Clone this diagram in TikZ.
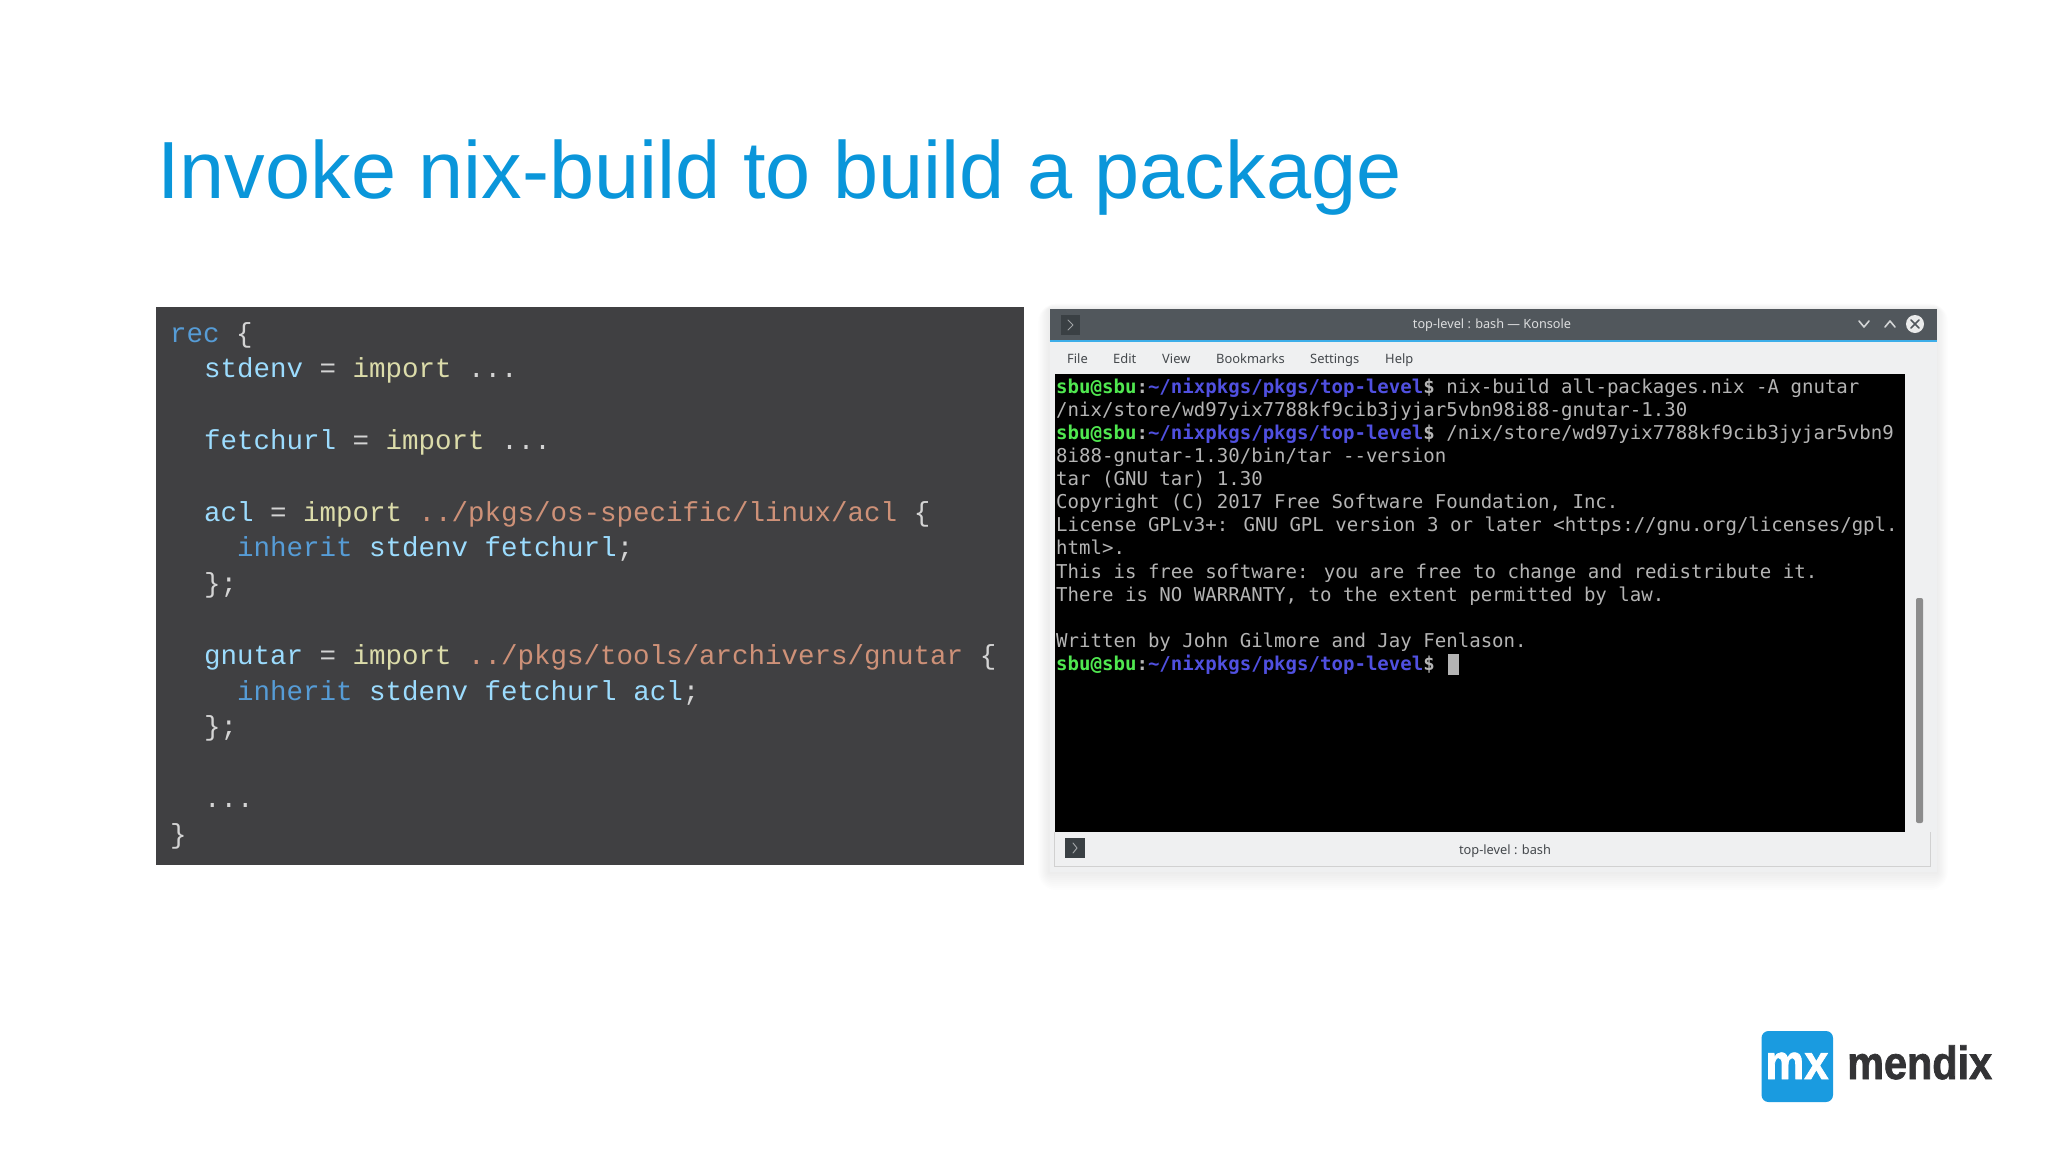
\documentclass[tikz,border=0pt]{standalone}
\usepackage{fontspec}
\setmainfont{Liberation Sans}
\newfontfamily\codefont{Liberation Mono}
\newfontfamily\termfont{DejaVu Sans Mono}
\newfontfamily\uifont{Noto Sans}
\newfontfamily\logofont[BoldFeatures={FakeStretch=.89,FakeBold=1.5}]{Liberation Sans}

\definecolor{titleblue}{HTML}{0A96DA}
\definecolor{panelgray}{HTML}{404042}
\definecolor{ckw}{HTML}{569CD6}
\definecolor{cvar}{HTML}{9CDCFE}
\definecolor{cfun}{HTML}{DCDCAA}
\definecolor{cstr}{HTML}{CE9178}
\definecolor{cpun}{HTML}{D4D4D4}
\definecolor{termgreen}{HTML}{50E850}
\definecolor{termblue}{HTML}{5050E0}
\definecolor{termgray}{HTML}{B4B4B4}
\definecolor{winbody}{HTML}{EFF0F1}
\definecolor{winbar}{HTML}{51575C}
\definecolor{winicon}{HTML}{3A4044}
\definecolor{winline}{HTML}{3DAEE9}
\definecolor{uitext}{HTML}{44484C}
\definecolor{logoblue}{HTML}{1A9BE0}
\definecolor{logodark}{HTML}{333335}

\newcommand{\kw}[1]{\textcolor{ckw}{#1}}
\newcommand{\vr}[1]{\textcolor{cvar}{#1}}
\newcommand{\fn}[1]{\textcolor{cfun}{#1}}
\newcommand{\st}[1]{\textcolor{cstr}{#1}}
\newcommand{\sbuprompt}{{\bfseries\textcolor{termgreen}{sbu@sbu}\textcolor{termgray}{:}\textcolor{termblue}{\textasciitilde/nixpkgs/pkgs/top-level}\textcolor{termgray}{\$}}}

\tikzset{
  codeline/.style={anchor=base west,inner sep=0,text=cpun,font=\codefont\fontsize{27.5}{30}\selectfont},
  termline/.style={anchor=base west,inner sep=0,text=termgray,font=\termfont\fontsize{19.06}{23}\selectfont},
  menuitem/.style={anchor=base west,inner sep=0,text=uitext,font=\uifont\fontsize{12.9}{16}\selectfont},
  winglyph/.style={line width=1.6pt,draw=#1,line cap=round,line join=round},
  winglyph/.default=white!75!winbar
}

\begin{document}
\begin{tikzpicture}[x=1pt,y=-1pt]
    \fill[white] (0,0) rectangle (2048,1152);
    \useasboundingbox (0,0) rectangle (2048,1152);

    \node[anchor=base west,inner sep=0,text=titleblue,font=\fontsize{81.1}{90}\selectfont] (title) at (157,198) {Invoke nix-build to build a package};

    % code panel
    \fill[panelgray] (155.5,307) rectangle (1024,865);
    \node[codeline] (rec) at (170,342) {\kw{rec} \{};
    \node[codeline] (stdenv) at (204,377.8) {\vr{stdenv} = \fn{import} ...};
    \node[codeline] (fetchurl) at (204,449.4) {\vr{fetchurl} = \fn{import} ...};
    \node[codeline] (acl) at (204,521) {\vr{acl} = \fn{import} \st{../pkgs/os-specific/linux/acl} \{};
    \node[codeline] (aclinherit) at (237,556.8) {\kw{inherit} \vr{stdenv} \vr{fetchurl};};
    \node[codeline] (aclend) at (204,592.6) {\};};
    \node[codeline] (gnutar) at (204,664.2) {\vr{gnutar} = \fn{import} \st{../pkgs/tools/archivers/gnutar} \{};
    \node[codeline] (gnutarinherit) at (237,700) {\kw{inherit} \vr{stdenv} \vr{fetchurl} \vr{acl};};
    \node[codeline] (gnutarend) at (204,735.8) {\};};
    \node[codeline] (dots) at (204,807.4) {...};
    \node[codeline] (recend) at (170,843) {\}};

    % window shadow
    \foreach \s in {2,4,...,18}
        \fill[black,opacity=.008,rounded corners=\s pt] (1049-\s*.6,309-\s*.3) rectangle (1937+\s*.6,872+\s);

    % konsole window
    \fill[winbody] (1049.5,309) rectangle (1936.5,872);
    \fill[winbar] (1049.5,309) rectangle (1936.5,341);
    \draw[winline,line width=1.4pt] (1049.5,341) -- (1936.5,341);
    \fill[winicon] (1061,315) rectangle (1080,335);
    \draw[winglyph=white!45!winbar,line width=1pt] (1068,320) -- (1073,325) -- (1068,330);
    \node[inner sep=0,text=white!80!winbar,font=\uifont\fontsize{12.7}{16}\selectfont] (wintitle) at (1492,325.5) {top-level : bash — Konsole};
    \draw[winglyph] (1859,321) -- (1864,327) -- (1869,321);
    \draw[winglyph] (1885,327) -- (1890,321) -- (1895,327);
    \node[circle,fill=white!88!winbar,minimum size=18pt,inner sep=0] (winclose) at (1915,324) {};
    \draw[winglyph=winbar] (1911,320) -- (1919,328) (1919,320) -- (1911,328);

    % menu
    \node[menuitem] (file) at (1067,363) {File};
    \node[menuitem] (edit) at (1113,363) {Edit};
    \node[menuitem] (view) at (1162,363) {View};
    \node[menuitem] (bookmarks) at (1216,363) {Bookmarks};
    \node[menuitem] (settings) at (1310,363) {Settings};
    \node[menuitem] (help) at (1385,363) {Help};

    % terminal
    \fill[black] (1055,374) rectangle (1905,832);
    \node[termline] (t1) at (1056,393.5) {\sbuprompt{} nix-build all-packages.nix -A gnutar};
    \node[termline] (t2) at (1056,416.5) {/nix/store/wd97yix7788kf9cib3jyjar5vbn98i88-gnutar-1.30};
    \node[termline] (t3) at (1056,439.5) {\sbuprompt{} /nix/store/wd97yix7788kf9cib3jyjar5vbn9};
    \node[termline] (t4) at (1056,462.7) {8i88-gnutar-1.30/bin/tar --version};
    \node[termline] (t5) at (1056,485.7) {tar (GNU tar) 1.30};
    \node[termline] (t6) at (1056,508.8) {Copyright (C) 2017 Free Software Foundation, Inc.};
    \node[termline] (t7) at (1056,531.9) {License GPLv3+: GNU GPL version 3 or later <https://gnu.org/licenses/gpl.};
    \node[termline] (t8) at (1056,554.9) {html>.};
    \node[termline] (t9) at (1056,578) {This is free software: you are free to change and redistribute it.};
    \node[termline] (t10) at (1056,601.1) {There is NO WARRANTY, to the extent permitted by law.};
    \node[termline] (t11) at (1056,647.1) {Written by John Gilmore and Jay Fenlason.};
    \node[termline] (t12) at (1056,670.2) {\sbuprompt};
    \fill[termgray] (1448,654) rectangle (1459,675);
    \fill[black!45,rounded corners=2pt] (1916,598) rectangle (1923,823);

    % status bar
    \draw[black!18,line width=1pt] (1054.5,832) -- (1054.5,866.5) -- (1930.5,866.5) -- (1930.5,832);
    \fill[winicon] (1065,838) rectangle (1085,858);
    \draw[winglyph=white!45!winbar,line width=1pt] (1073,843) -- (1077,848) -- (1073,853);
    \node[inner sep=0,text=uitext,font=\uifont\fontsize{12.8}{16}\selectfont] (tabname) at (1505,851) {top-level : bash};

    % logo
    \fill[logoblue,rounded corners=7pt] (1761.5,1031) rectangle (1833,1102);
    \node[anchor=base,inner sep=0,text=white,font=\logofont\bfseries\fontsize{49}{50}\selectfont] (mx) at (1797,1079) {mx};
    \node[anchor=base west,inner sep=0,text=logodark,font=\logofont\bfseries\fontsize{46.5}{50}\selectfont] (mendix) at (1847,1079) {mendix};
\end{tikzpicture}
\end{document}
